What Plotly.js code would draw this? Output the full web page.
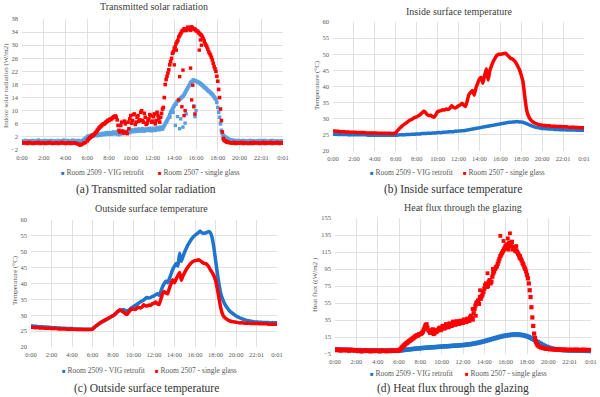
<!DOCTYPE html>
<html><head><meta charset="utf-8">
<script src="https://cdn.plot.ly/plotly-3.0.1.min.js"></script>
<style>html,body{margin:0;padding:0;background:#fff}#chart{width:600px;height:397px}</style>
</head><body><div id="chart"></div>
<script>
// ---------- categories / tick labels ----------
const tickHours = [0,2,4,6,8,10,12,14,16,18,20,22,24];
const tickLabels = ["0:00","2:00","4:00","6:00","8:00","10:00","12:00","14:00","16:00","18:00","20:00","22:01","0:01"];
const seriesNames = ["Room 2509 - VIG retrofit","Room 2507 - single glass"];
const panelTitles = ["Transmitted solar radiation","Inside surface temperature","Outside surface temperature","Heat flux through the glazing"];
const captions = ["(a) Transmitted solar radiation","(b) Inside surface temperature","(c) Outside surface temperature","(d) Heat flux through the glazing"];
const yTitles = ["Indoor solar radiation (W/m2)","Temperature (°C)","Temperature (°C)","Heat flux ((W/m2 )"];
// samples every 10 minutes, 0:00 .. 24:00
const sampleHours = [];
for (let i = 0; i <= 144; i++) sampleHours.push(i / 6);
// extra daytime readings every 10 minutes, 6:05 .. 18:55
const offsetHours = [];
for (let i = 0; i < 78; i++) offsetHours.push(6 + 1 / 12 + i / 6);

// ---------- (a) transmitted solar radiation ----------
const aVig = [
 0.8,0.6,0.9,0.7,0.8,0.6, 0.9,0.7,0.8,1.0,0.7,0.8, 0.6,0.9,0.7,0.8,0.9,0.7, 0.8,0.6,0.9,0.7,0.8,1.0,
 0.7,0.9,0.8,0.6,1.0,0.8, 0.7,0.9,0.6,0.8,1.2,1.6, 2.0,2.3,2.4,2.5,2.6,2.5, 2.6,2.7,2.8,2.9,3.0,3.0,
 3.1,3.0,3.2,3.1,3.3,3.0, 2.9,3.4,3.2,3.5,3.4,3.6, 3.8,3.9,4.0,3.8,4.1,4.0, 4.2,3.9,4.1,4.3,4.0,4.2,
 4.3,4.1,4.4,4.5,4.3,4.6, 5.0,6.0,7.0,8.0,9.5,10.5, 11.5,12.0,13.0,13.5,14.0,14.5, 15.5,16.5,17.5,18.5,19.0,19.2,
 19.0,18.8,18.5,18.0,17.5,17.0, 16.5,16.0,15.5,15.0,14.2,13.5, 11.0,8.0,4.0,2.5,2.0,1.6, 1.3,1.1,1.0,0.9,0.8,0.9,
 0.8,0.7,0.9,0.8,0.7,0.8, 0.9,0.7,0.8,0.6,0.8,0.9, 0.7,0.8,0.9,0.7,0.6,0.8, 0.9,0.7,0.8,0.6,0.7,0.8, 0.7];
const aVigOffset = [
 2.2,2.0,2.6,2.3,2.8,2.4, 2.9,2.5,3.1,2.7,3.3,2.8, 3.3,2.8,3.5,2.9,3.6,2.7, 3.3,3.0,3.6,3.2,3.8,3.3,
 4.1,3.6,4.3,3.7,4.4,3.8, 4.5,3.8,4.4,4.0,4.6,3.9, 4.6,4.0,4.8,4.2,5.0,4.4, 5.5,6.5,7.5,8.8,10.0,11.0,
 12.0,12.8,13.3,13.8,14.3,15.0, 16.0,17.0,18.0,18.8,19.4,19.0, 18.9,18.6,18.2,17.8,17.2,16.8,
 16.2,15.8,15.2,14.6,13.8,12.5, 9.5,6.0,3.0,2.2,1.8,1.4];
const aSingle = [
 0.3,0.1,0.2,0.0,0.3,0.1, 0.0,0.2,0.1,0.3,0.0,0.1, 0.2,0.0,0.1,0.3,0.1,0.0, 0.1,0.2,0.0,0.1,0.3,0.1,
 0.0,0.1,0.2,0.0,0.1,0.2, 0.0,-0.2,-0.5,-0.3,0.1,0.3, 0.8,1.5,2.0,2.4,2.8,3.5, 4.3,5.0,5.5,6.0,6.3,6.8,
 7.0,7.3,7.8,8.2,8.0,5.5, 3.5,6.5,3.2,6.0,3.0,4.5, 8.5,7.0,9.0,6.5,8.5,7.2, 10.0,6.5,8.0,6.2,7.5,8.5,
 6.8,9.0,7.0,8.5,6.5,9.2, 11.0,18.0,20.5,22.5,25.0,27.5, 29.0,30.5,31.5,33.0,34.0,34.5, 35.0,34.8,35.2,34.6,35.3,35.0,
 34.5,34.2,33.5,33.0,32.0,30.5, 29.5,28.0,27.0,25.5,23.5,22.0, 19.0,14.0,7.0,1.5,0.8,0.5, 0.3,0.2,0.1,0.3,0.0,0.2,
 0.1,0.3,0.0,0.2,0.1,0.0, 0.2,0.0,0.3,0.1,0.2,0.0, 0.1,0.3,0.0,0.2,0.1,0.3, 0.0,0.2,0.1,0.3,0.0,0.2, 0.1];
const aSingleOffset = [
 1.2,1.8,2.2,2.7,3.2,4.0, 4.7,5.2,5.8,6.0,6.6,7.1, 7.4,7.6,8.1,8.4,7.2,4.0, 5.5,3.8,6.8,3.5,6.5,7.5,
 6.2,8.8,5.8,8.0,6.8,9.5, 7.0,9.2,5.8,7.0,8.8,6.5, 8.2,6.0,9.5,7.5,8.0,10.5, 14.0,19.5,21.5,24.0,26.0,28.0,
 29.5,31.0,32.5,33.5,34.5,35.0, 34.5,35.5,34.8,35.6,35.0,34.8, 34.3,33.8,33.2,32.5,31.3,30.0,
 28.8,27.5,26.3,24.5,22.8,20.5, 16.5,10.5,3.5,1.0,0.6,0.4];
// scattered low readings (cloud passages)
const aVigDipHours = [13.3,13.6,13.9,14.1,14.3,14.5,14.6,14.8,15.0,15.1,15.8,15.9,16.0];
const aVigDipValues = [6.5,8.0,9.5,5.5,8.2,4.5,7.5,5.0,6.2,9.0,11.5,8.2,10.0];
const aSingleDipHours = [14.0,14.2,14.4,14.5,14.7,14.8,14.9,15.0,15.5,15.6,15.7,15.8,15.9,16.3,16.4,16.5];
const aSingleDipValues = [24,28.5,13.3,20.4,11.2,22.4,8.5,10,23,13.3,17.8,11.2,9,28.5,31.6,30];

// ---------- (b) inside surface temperature ----------
const bVig = [
 25.2,25.2,25.2,25.1,25.1,25.1, 25.1,25.1,25.1,25.0,25.0,25.0, 25.0,25.0,25.0,25.0,25.0,25.0, 25.0,25.0,24.9,24.9,24.9,24.9,
 24.9,24.9,24.9,24.9,24.9,24.9, 24.9,24.9,24.9,24.9,24.9,24.9, 24.9,24.9,25.0,25.0,25.0,25.0, 25.1,25.1,25.1,25.2,25.2,25.2,
 25.3,25.3,25.3,25.4,25.4,25.4, 25.5,25.5,25.5,25.6,25.6,25.6, 25.7,25.7,25.7,25.8,25.8,25.9, 25.9,26.0,26.0,26.0,26.1,26.1,
 26.2,26.2,26.3,26.3,26.4,26.5, 26.6,26.7,26.8,26.9,27.0,27.1, 27.2,27.3,27.4,27.5,27.6,27.7, 27.8,27.9,28.0,28.1,28.2,28.3,
 28.4,28.5,28.6,28.7,28.8,28.9, 28.9,29.0,29.0,29.1,29.1,29.0, 29.0,28.9,28.7,28.5,28.3,28.0, 27.8,27.6,27.4,27.3,27.2,27.1,
 27.0,27.0,26.9,26.9,26.8,26.8, 26.8,26.7,26.7,26.7,26.6,26.6, 26.6,26.6,26.5,26.5,26.5,26.5, 26.5,26.5,26.4,26.4,26.4,26.4, 26.4];
const bSingle = [
 26.2,26.2,26.1,26.1,26.0,26.0, 26.0,25.9,25.9,25.9,25.8,25.8, 25.8,25.8,25.7,25.7,25.7,25.7, 25.7,25.6,25.6,25.6,25.6,25.6,
 25.6,25.6,25.5,25.5,25.5,25.5, 25.5,25.5,25.5,25.5,25.4,25.5, 25.6,26.3,26.9,27.4,27.9,28.3, 28.7,29.1,29.5,29.8,30.1,30.4,
 30.6,30.9,31.3,31.8,32.3,32.0, 31.3,31.0,31.1,30.7,30.5,31.2, 32.2,32.4,32.5,32.8,32.7,33.0, 32.9,33.2,34.0,33.6,33.3,33.6,
 34.0,34.3,34.8,34.2,33.8,35.5, 37.5,38.2,38.8,37.3,39.5,41.0, 42.3,42.8,41.0,43.5,45.5,42.0, 45.0,46.5,47.8,48.8,49.6,50.0,
 50.0,50.1,50.2,50.3,49.8,49.2, 48.7,48.5,48.0,47.3,46.3,45.2, 43.5,41.5,37.0,33.0,31.0,30.0, 29.3,28.9,28.6,28.4,28.2,28.1,
 28.0,27.9,27.9,27.8,27.8,27.7, 27.7,27.7,27.6,27.6,27.6,27.6, 27.5,27.5,27.5,27.4,27.4,27.4, 27.4,27.3,27.3,27.3,27.2,27.2, 27.2];

// ---------- (c) outside surface temperature ----------
const cVig = [
 26.6,26.6,26.5,26.5,26.4,26.4, 26.4,26.3,26.3,26.3,26.2,26.2, 26.1,26.1,26.1,26.0,26.0,26.0, 25.9,25.9,25.9,25.8,25.8,25.8,
 25.8,25.7,25.7,25.7,25.7,25.7, 25.6,25.6,25.6,25.6,25.6,25.6, 25.7,26.2,26.6,27.0,27.4,27.7, 28.0,28.3,28.6,28.9,29.2,29.5,
 29.8,30.2,30.7,31.2,31.6,31.5, 31.8,31.6,31.4,31.5,31.9,32.4, 32.8,33.1,33.4,33.8,34.2,34.5, 34.8,35.3,35.6,35.4,35.6,35.9,
 36.1,36.5,36.8,36.3,37.5,39.0, 40.0,40.8,40.2,41.5,43.0,44.5, 45.5,46.3,45.5,49.5,47.0,48.5, 50.0,51.2,52.3,53.2,54.0,54.7,
 55.2,55.6,56.0,56.5,56.0,55.8, 55.9,56.1,56.4,56.0,54.5,51.5, 47.5,43.5,40.0,37.0,35.3,34.0, 33.0,32.2,31.5,31.0,30.6,30.2,
 29.8,29.5,29.2,29.0,28.8,28.6, 28.4,28.3,28.2,28.1,28.0,27.9, 27.9,27.8,27.8,27.8,27.7,27.7, 27.7,27.7,27.6,27.6,27.6,27.6, 27.6];
const cSingle = [
 26.2,26.2,26.1,26.1,26.1,26.0, 26.0,26.0,25.9,25.9,25.9,25.9, 25.8,25.8,25.8,25.8,25.7,25.7, 25.7,25.7,25.7,25.6,25.6,25.6,
 25.6,25.6,25.6,25.5,25.5,25.5, 25.5,25.5,25.5,25.5,25.5,25.5, 25.6,26.1,26.6,27.0,27.4,27.8, 28.1,28.4,28.7,29.0,29.3,29.6,
 29.9,30.3,30.8,31.3,31.7,31.4, 31.0,30.6,30.2,30.8,31.6,31.9, 32.0,31.8,32.2,32.5,32.3,32.6, 33.3,33.0,32.9,33.2,33.1,33.6,
 33.8,34.2,33.6,33.4,35.0,36.8, 37.5,37.0,36.8,38.5,40.0,41.2, 40.2,41.5,42.5,43.5,41.0,42.5, 43.5,44.5,45.3,46.0,46.6,47.0,
 47.2,47.3,47.5,47.2,46.8,46.4, 46.3,46.0,45.3,44.3,43.5,42.5, 41.0,38.5,35.5,32.5,30.5,29.5, 29.0,28.6,28.3,28.1,28.0,27.9,
 27.8,27.7,27.6,27.6,27.6,27.5, 27.5,27.5,27.5,27.4,27.4,27.4, 27.4,27.4,27.3,27.3,27.3,27.3, 27.3,27.2,27.2,27.2,27.2,27.2, 27.2];

// ---------- (d) heat flux through the glazing ----------
const dVig = [
 0.5,0.0,0.3,-0.3,0.2,-0.2, 0.0,-0.4,0.2,-0.5,-0.2,-0.6, -0.4,-0.8,-0.3,-0.9,-0.6,-1.0, -0.8,-1.1,-0.7,-1.2,-0.9,-1.1,
 -1.0,-1.3,-0.9,-1.2,-1.0,-1.3, -1.1,-1.2,-0.9,-1.3,-1.0,-1.2, -1.0,-0.8,-0.5,-0.2,0.0,0.3, 0.5,0.7,1.0,1.2,1.4,1.6,
 1.8,2.0,2.2,2.3,2.5,2.6, 2.8,2.9,3.1,3.2,3.4,3.5, 3.7,3.8,4.0,4.1,4.3,4.4, 4.6,4.7,4.9,5.0,5.2,5.4,
 5.5,5.7,6.0,6.2,6.5,6.8, 7.2,7.6,8.0,8.5,9.0,9.5, 10.0,10.6,11.2,11.8,12.4,13.0, 13.6,14.2,14.8,15.3,15.8,16.3,
 16.7,17.0,17.3,17.6,17.8,18.0, 18.0,17.9,17.7,17.4,17.0,16.5, 15.8,15.0,14.0,13.0,11.8,10.5, 9.2,8.0,6.8,5.6,4.5,3.6,
 2.8,2.1,1.5,1.0,0.6,0.3, 0.0,-0.2,-0.4,-0.5,-0.6,-0.7, -0.8,-0.9,-1.0,-1.0,-1.1,-1.1, -1.2,-1.2,-1.3,-1.3,-1.3,-1.4, -1.4];
const dSingle = [
 0.5,-0.5,0.3,-1.0,0.0,-0.8, 0.2,-0.6,-1.2,0.0,-0.4,-1.0, -0.5,-1.5,-0.8,-2.0,-1.2,-0.6, -1.5,-0.8,-2.0,-1.0,-1.6,-0.9,
 -1.2,-2.0,-0.8,-1.5,-1.0,-1.8, -1.0,-1.6,-0.6,-1.3,-0.8,-1.4, -0.5,1.0,3.5,5.5,7.5,9.0, 10.5,12.0,13.5,15.5,17.0,17.5,
 18.5,20.0,24.0,29.0,26.0,22.0, 20.5,24.0,19.5,21.0,23.5,26.0, 25.0,27.5,26.0,28.5,27.0,30.0, 29.0,31.5,30.0,32.0,31.0,33.0,
 32.0,34.5,33.0,35.0,38.0,37.0, 43.0,52.0,56.0,54.0,60.0,65.0, 72.0,78.0,75.0,82.0,80.0,90.0, 95.0,98.0,104.0,110.0,114.0,118.0,
 122.0,120.0,126.0,123.0,118.0,121.0, 117.0,113.0,110.0,105.0,100.0,95.0, 88.0,78.0,62.0,38.0,19.0,9.0, 5.0,3.5,2.5,2.0,1.5,1.0,
 1.0,0.5,0.8,0.2,0.6,0.0, 0.5,0.2,-0.2,0.4,0.0,-0.3, 0.2,-0.4,0.1,-0.2,0.3,-0.5, 0.0,-0.3,0.2,-0.6,-0.1,-0.4, -0.2];
const dSingleOffset = [
 0.2,2.5,4.5,6.5,8.0,10.0, 11.5,13.0,14.5,16.0,16.5,18.5, 19.0,21.5,27.0,30.0,23.0,20.0, 22.5,18.5,23.0,22.0,25.0,23.0,
 28.0,25.0,30.0,26.5,31.0,28.0, 33.0,29.5,33.5,30.5,34.0,31.5, 35.5,32.5,36.5,34.0,40.0,35.5, 48.0,55.0,58.0,62.0,63.0,68.0,
 76.0,74.0,80.0,78.0,86.0,92.0, 97.0,101.0,107.0,112.0,116.0,120.0, 124.0,118.0,122.0,127.0,120.0,116.0,
 115.0,111.0,107.0,102.0,97.0,92.0, 84.0,70.0,50.0,28.0,14.0,7.0];
const dSingleExtraHours = [13.6,14.3,14.8,15.5,15.8,16.2,16.4,17.0,17.3,12.9,13.2];
const dSingleExtraValues = [70,90,95,134,128,131,137,122,108,48,40];

// ---------- styling / layout ----------
const BLUE = '#1f74cc', BLUE_LIGHT = '#5aa0e0', RED = '#ff0000';
const SERIF = 'Liberation Serif, Times New Roman, serif';
const W = 600, H = 397;
const panels = [
  {l:22, r:283, t:19, b:150, yr:[-2,38], t0:-2, dt:4},
  {l:333, r:584, t:22, b:151, yr:[20,60], t0:20, dt:5},
  {l:31, r:277, t:220, b:347, yr:[20,60], t0:20, dt:5},
  {l:335, r:591, t:218, b:354, yr:[-5,155], t0:-5, dt:20}
];
const titlePos = [[154,7],[459,12],[151,208],[463,207]];
const captionPos = [[146,189],[453,189],[146,388],[453,388]];
const yTitlePos = [[6,86],[317,85],[15,280],[315,285]];
const legendPos = [[[59,172],[156,172]],[[368,172],[461,172]],[[60,370],[153,370]],[[368,373],[463,373]]];

const px = v => v / W, py = v => 1 - v / H;
const layout = {
  width: W, height: H, margin: {l:0, r:0, t:0, b:0},
  paper_bgcolor: '#fff', plot_bgcolor: '#fff', showlegend: false,
  font: {family: SERIF, color: '#595959'},
  annotations: []
};
panels.forEach((p, i) => {
  const s = i === 0 ? '' : String(i + 1);
  layout['xaxis' + s] = {
    domain: [px(p.l), px(p.r)], range: [0, 24], anchor: 'y' + s,
    tickmode: 'array', tickvals: tickHours, ticktext: tickLabels,
    showgrid: true, gridcolor: '#d9d9d9', gridwidth: 0.8, zeroline: false,
    showline: false, ticks: '', ticklabelstandoff: 2,
    tickfont: {family: SERIF, size: 6.5, color: '#595959'}, fixedrange: true
  };
  layout['yaxis' + s] = {
    domain: [py(p.b), py(p.t)], range: p.yr, anchor: 'x' + s,
    tick0: p.t0, dtick: p.dt, showgrid: true, gridcolor: '#d9d9d9', gridwidth: 0.8,
    zeroline: false, showline: false, ticks: '', ticklabelstandoff: 3,
    tickfont: {family: SERIF, size: 6.5, color: '#595959'}, fixedrange: true
  };
  layout.annotations.push({text: panelTitles[i], xref: 'paper', yref: 'paper', x: px(titlePos[i][0]), y: py(titlePos[i][1]),
    xanchor: 'center', yanchor: 'middle', showarrow: false, font: {family: SERIF, size: 10, color: '#404040'}});
  layout.annotations.push({text: captions[i], xref: 'paper', yref: 'paper', x: px(captionPos[i][0]), y: py(captionPos[i][1]),
    xanchor: 'center', yanchor: 'middle', showarrow: false, font: {family: SERIF, size: 11.5, color: '#333'}});
  layout.annotations.push({text: yTitles[i], xref: 'paper', yref: 'paper', x: px(yTitlePos[i][0]), y: py(yTitlePos[i][1]),
    xanchor: 'center', yanchor: 'middle', textangle: -90, showarrow: false, font: {family: SERIF, size: 7, color: '#595959'}});
  [BLUE, RED].forEach((c, k) => {
    layout.annotations.push({
      text: '<span style="color:' + c + ';font-size:6px">■</span> ' + seriesNames[k],
      xref: 'paper', yref: 'paper', x: px(legendPos[i][k][0]), y: py(legendPos[i][k][1]),
      xanchor: 'left', yanchor: 'middle', showarrow: false, font: {family: SERIF, size: 7.5, color: '#595959'}
    });
  });
});

function pts(x, y, color, size, ax, name) {
  return {x: x, y: y, type: 'scatter', mode: 'markers', name: name, xaxis: 'x' + ax, yaxis: 'y' + ax,
    marker: {symbol: 'square', size: size, color: color, line: {width: 0}}, hoverinfo: 'skip'};
}
function line(x, y, color, width, ax, name) {
  return {x: x, y: y, type: 'scatter', mode: 'lines', name: name, xaxis: 'x' + ax, yaxis: 'y' + ax,
    line: {color: color, width: width, shape: 'spline', smoothing: 0.3}, hoverinfo: 'skip'};
}
const data = [
  pts(sampleHours, aVig, BLUE_LIGHT, 3.6, '', seriesNames[0]),
  pts(offsetHours, aVigOffset, BLUE_LIGHT, 3.6, '', seriesNames[0]),
  pts(aVigDipHours, aVigDipValues, BLUE_LIGHT, 3.4, '', seriesNames[0]),
  pts(sampleHours, aSingle, RED, 3.6, '', seriesNames[1]),
  pts(offsetHours, aSingleOffset, RED, 3.6, '', seriesNames[1]),
  pts(aSingleDipHours, aSingleDipValues, RED, 3.4, '', seriesNames[1]),
  line(sampleHours, bVig, BLUE, 3.5, '2', seriesNames[0]),
  line(sampleHours, bSingle, RED, 3.5, '2', seriesNames[1]),
  line(sampleHours, cVig, BLUE, 3.5, '3', seriesNames[0]),
  line(sampleHours, cSingle, RED, 3.5, '3', seriesNames[1]),
  pts(sampleHours, dVig, BLUE, 4.4, '4', seriesNames[0]),
  pts(sampleHours, dSingle, RED, 4.2, '4', seriesNames[1]),
  pts(offsetHours, dSingleOffset, RED, 4.2, '4', seriesNames[1]),
  pts(dSingleExtraHours, dSingleExtraValues, RED, 3.8, '4', seriesNames[1])
];
Plotly.newPlot('chart', data, layout, {staticPlot: true, displayModeBar: false});
</script></body></html>
